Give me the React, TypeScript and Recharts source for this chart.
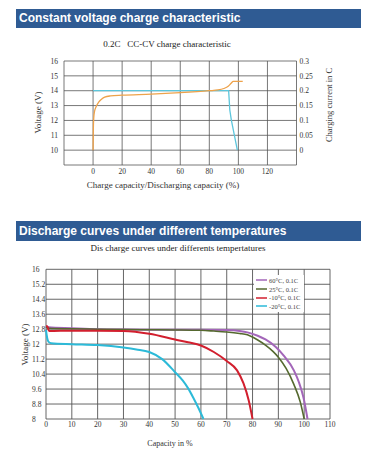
import React from 'react'
import { LineChart, Line, XAxis, YAxis, CartesianGrid, Legend, Label } from 'recharts'

// 0.2C CC-CV charge characteristic
const chargeCapacity = [0, 0.2, 0.5, 1, 2, 4, 6, 8, 12, 20, 40, 60, 80, 86, 90, 93, 95, 96.5, 103]
const chargeVoltage = [10, 11.5, 12.2, 12.6, 12.9, 13.25, 13.45, 13.57, 13.65, 13.7, 13.77, 13.87, 14.0, 14.05, 14.15, 14.3, 14.5, 14.63, 14.63]
const currentCapacity = [0, 93.3, 94.1, 95.2, 99.3]
const chargeCurrent = [0.2, 0.2, 0.135, 0.1, 0]
const chargeXTicks = [-20, 0, 20, 40, 60, 80, 100, 120, 140]
const voltageTicks = [9, 10, 11, 12, 13, 14, 15, 16]
const currentTicks = [-0.05, 0, 0.05, 0.1, 0.15, 0.2, 0.25, 0.3]

// discharge curves under different temperatures
const capacityTicks = [0, 10, 20, 30, 40, 50, 60, 70, 80, 90, 100, 110]
const dischargeVoltTicks = [8, 8.8, 9.6, 10.4, 11.2, 12, 12.8, 13.6, 14.4, 15.2, 16]
const cap60 = [0, 1, 10, 20, 30, 40, 50, 60, 70, 75, 78, 82, 85, 89, 92, 96, 98, 99.7, 101.3]
const volt60 = [12.95, 12.9, 12.85, 12.8, 12.78, 12.77, 12.77, 12.77, 12.75, 12.7, 12.63, 12.45, 12.25, 11.85, 11.4, 10.6, 9.95, 9.16, 8]
const cap25 = [0, 1, 10, 20, 30, 40, 50, 60, 65, 70, 75, 78, 82, 85, 88, 90, 93, 96, 98.5, 100]
const volt25 = [12.9, 12.85, 12.82, 12.8, 12.78, 12.77, 12.76, 12.74, 12.7, 12.65, 12.57, 12.5, 12.22, 11.95, 11.6, 11.3, 10.7, 9.85, 8.9, 8]
const capM10 = [0, 0.5, 1.2, 10, 20, 30, 40, 50, 55, 60, 65, 70, 74, 76.5, 78.5, 80]
const voltM10 = [12.95, 12.95, 12.7, 12.72, 12.72, 12.7, 12.55, 12.25, 12.1, 11.93, 11.58, 11.1, 10.6, 9.9, 9.0, 8]
const capM20 = [0, 0.5, 1, 2, 10, 20, 30, 35, 40, 45, 50, 53, 55, 57, 59, 61]
const voltM20 = [12.75, 12.3, 12.12, 12.05, 12.0, 11.95, 11.82, 11.72, 11.58, 11.2, 10.5, 10.05, 9.65, 9.15, 8.6, 8]
const seriesNames = ['60°C, 0.1C', '25°C, 0.1C', '-10°C, 0.1C', '-20°C, 0.1C']

const zip = (xs: number[], ys: number[]) => xs.map((x, i) => ({ x, v: ys[i] }))

const serif = '"Liberation Serif", "Times New Roman", serif'
const sans = '"Liberation Sans", Arial, sans-serif'
const gridColor = '#555'
const tickStyle = { fontSize: 7.5, fill: '#333', fontFamily: serif }

const headerStyle: React.CSSProperties = {
  position: 'absolute',
  left: 16,
  width: 342,
  height: 19,
  paddingLeft: 3,
  background: '#2f5b93',
  color: '#fff',
  fontFamily: sans,
  fontWeight: 700,
  fontSize: 12,
  lineHeight: '19px',
  whiteSpace: 'nowrap',
}

const subStyle: React.CSSProperties = {
  position: 'absolute',
  left: 0,
  width: 380,
  textAlign: 'center',
  fontFamily: serif,
  fontSize: 9,
  color: '#222',
  whiteSpace: 'pre',
}

const VLabel = (x: number, y: number, text: string, size: number) => () => (
  <text x={x} y={y} transform={`rotate(-90 ${x} ${y})`} textAnchor="middle" dominantBaseline="central"
    fontSize={size} fontFamily={serif} fill="#333">{text}</text>
)

const HLabel = (x: number, y: number, text: string, size: number) => () => (
  <text x={x} y={y} textAnchor="middle" dominantBaseline="central" fontSize={size} fontFamily={serif} fill="#333">{text}</text>
)

const LeftTick = (props: any) => {
  const { x, y, payload } = props
  return (
    <text x={x - 14} y={y} dy={2.6} textAnchor="start" {...tickStyle}>{payload.value}</text>
  )
}

const renderLegend = (props: any) => {
  const items = [...(props.payload || [])].sort(
    (a: any, b: any) => seriesNames.indexOf(a.value) - seriesNames.indexOf(b.value)
  )
  return (
    <div style={{ background: '#fff', padding: '1px 2px', width: 46 }}>
      {items.map((entry: any) => (
        <div key={entry.value} style={{ display: 'flex', alignItems: 'center', height: 8.7 }}>
          <svg width={11} height={4} style={{ marginRight: 2 }}>
            <line x1={0} y1={2} x2={11} y2={2} stroke={entry.color} strokeWidth={1.5} />
          </svg>
          <span style={{ fontSize: 6.5, fontFamily: serif, color: '#444', whiteSpace: 'nowrap' }}>{entry.value}</span>
        </div>
      ))}
    </div>
  )
}

export default function App() {
  return (
    <div style={{ position: 'absolute', left: 0, top: 0, width: 380, height: 460, background: '#fff' }}>
      <div style={{ ...headerStyle, top: 9 }}>Constant voltage charge characteristic</div>
      <div style={{ ...subStyle, top: 39, left: -23 }}>{'0.2C   CC-CV charge characteristic'}</div>

      <div style={{ position: 'absolute', left: 0, top: 50 }}>
        <LineChart width={380} height={150} margin={{ top: 11, right: 0, bottom: 0, left: 0 }}>
          <CartesianGrid stroke={gridColor} strokeWidth={0.8} />
          <XAxis type="number" dataKey="x" domain={[-20, 140]} ticks={chargeXTicks} interval={0}
            height={35} axisLine={false} tickLine={false} tickSize={4} tickMargin={0} tick={tickStyle}
            tickFormatter={(v: number) => (v < 0 || v > 120 ? '' : String(v))}>
            <Label content={HLabel(163, 135, 'Charge capacity/Discharging capacity (%)', 9)} />
          </XAxis>
          <YAxis type="number" domain={[9, 16]} ticks={voltageTicks} interval={0} width={64}
            axisLine={false} tickLine={false} tickSize={4} tickMargin={2} tick={tickStyle}
            tickFormatter={(v: number) => (v === 9 ? '' : String(v))}>
            <Label content={VLabel(38, 62.5, 'Voltage (V)', 9)} />
          </YAxis>
          <YAxis yAxisId="right" orientation="right" type="number" domain={[-0.05, 0.3]} ticks={currentTicks}
            interval={0} width={83.5} axisLine={false} tickLine={false} tickSize={3} tickMargin={0} tick={tickStyle}
            tickFormatter={(v: number) => (v < 0 ? '' : String(v))}>
            <Label content={VLabel(329, 55, 'Charging current in C', 8.5)} />
          </YAxis>
          <Line data={zip(currentCapacity, chargeCurrent)} yAxisId="right" dataKey="v" type="linear"
            stroke="#5cc6dc" strokeWidth={1.3} dot={false} activeDot={false} isAnimationActive={false} />
          <Line data={zip(chargeCapacity, chargeVoltage)} dataKey="v" type="monotone"
            stroke="#eea24a" strokeWidth={1.3} dot={false} activeDot={false} isAnimationActive={false} />
        </LineChart>
      </div>

      <div style={{ ...headerStyle, top: 221, height: 20, lineHeight: '20px' }}>Discharge curves under different temperatures</div>
      <div style={{ ...subStyle, top: 243, left: -12 }}>Dis charge curves under differents tempertatures</div>

      <div style={{ position: 'absolute', left: 0, top: 250 }}>
        <LineChart width={380} height={210} margin={{ top: 19.3, right: 50, bottom: 0, left: 0 }}>
          <CartesianGrid stroke={gridColor} strokeWidth={0.9} />
          <XAxis type="number" dataKey="x" domain={[0, 110]} ticks={capacityTicks} interval={0}
            height={41} axisLine={false} tickLine={false} tickSize={3} tickMargin={0} tick={tickStyle}>
            <Label content={HLabel(170, 193, 'Capacity in %', 8)} />
          </XAxis>
          <YAxis type="number" domain={[8, 16]} ticks={dischargeVoltTicks} interval={0} width={46}
            axisLine={false} tickLine={false} tickSize={0} tickMargin={0} tick={<LeftTick />}>
            <Label content={VLabel(25, 94.5, 'Voltage (V)', 9)} />
          </YAxis>
          <Legend layout="vertical" align="center" verticalAlign="middle" content={renderLegend}
            wrapperStyle={{ left: 254, top: 25, width: 50, height: 36 }} />
          <Line name={seriesNames[0]} data={zip(cap60, volt60)} dataKey="v" type="monotone"
            stroke="#a366b9" strokeWidth={2} dot={false} activeDot={false} isAnimationActive={false} />
          <Line name={seriesNames[1]} data={zip(cap25, volt25)} dataKey="v" type="monotone"
            stroke="#55692f" strokeWidth={1.6} dot={false} activeDot={false} isAnimationActive={false} />
          <Line name={seriesNames[2]} data={zip(capM10, voltM10)} dataKey="v" type="monotone"
            stroke="#d21f2e" strokeWidth={2} dot={false} activeDot={false} isAnimationActive={false} />
          <Line name={seriesNames[3]} data={zip(capM20, voltM20)} dataKey="v" type="monotone"
            stroke="#2cbad8" strokeWidth={2} dot={false} activeDot={false} isAnimationActive={false} />
        </LineChart>
      </div>
    </div>
  )
}
